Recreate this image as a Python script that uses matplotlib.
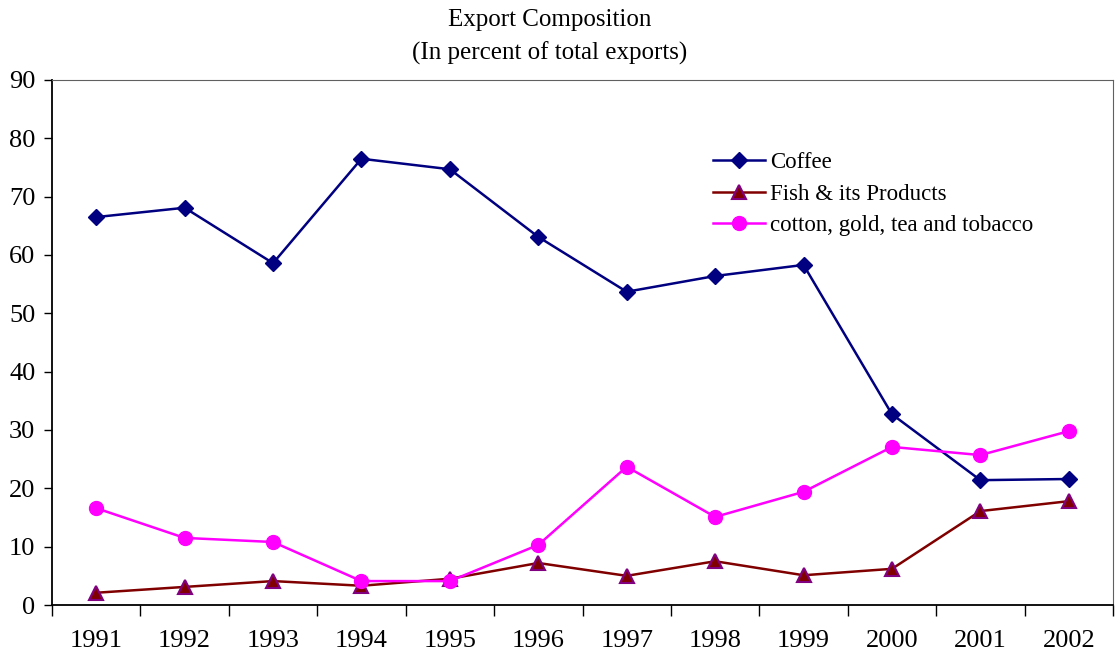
import matplotlib
matplotlib.use("Agg")
import matplotlib.pyplot as plt
import numpy as np

years = ["1991", "1992", "1993", "1994", "1995", "1996", "1997", "1998", "1999", "2000", "2001", "2002"]
coffee = [66.5, 68.1, 58.6, 76.5, 74.7, 63.1, 53.7, 56.4, 58.3, 32.7, 21.4, 21.6]
fish = [2.1, 3.1, 4.1, 3.3, 4.5, 7.2, 5.0, 7.5, 5.1, 6.2, 16.1, 17.8]
cotton = [16.6, 11.5, 10.8, 4.1, 4.1, 10.3, 23.7, 15.1, 19.4, 27.1, 25.7, 29.8]
yticks = [0, 10, 20, 30, 40, 50, 60, 70, 80, 90]

plt.rcParams['font.family'] = ['Liberation Serif', 'DejaVu Serif']

fig = plt.figure(figsize=(11.16, 6.54), dpi=100)
ax = fig.add_axes([52/1116, 49/654, (1113-52)/1116, (605-80)/654])

x = np.arange(len(years))
ax.plot(x, coffee, color='#000080', lw=1.8, marker='D', ms=8, mfc='#000080', mec='#000080', label='Coffee')
ax.plot(x, fish, color='#800000', lw=1.8, marker='^', ms=10, mfc='#800000', mec='#800080', mew=1.5, label='Fish & its Products')
ax.plot(x, cotton, color='#FF00FF', lw=1.8, marker='o', ms=10, mfc='#FF00FF', mec='#FF00FF', label='cotton, gold, tea and tobacco')

ax.set_xlim(-0.5, len(years) - 0.5)
ax.set_ylim(0, 90)
ax.set_yticks(yticks)
ax.set_yticklabels([str(v) for v in yticks], fontsize=19)
ax.set_xticks(np.arange(len(years) + 1) - 0.5)
ax.set_xticklabels([])
ax.set_xticks(x, minor=True)
ax.set_xticklabels(years, minor=True, fontsize=19)
ax.tick_params(axis='x', which='major', direction='out', length=8, width=1)
ax.tick_params(axis='x', which='minor', length=0, pad=18)
ax.tick_params(axis='y', direction='out', length=6, width=1, pad=6)

for s in ['left', 'bottom']:
    ax.spines[s].set_linewidth(1.3)
for s in ['top', 'right']:
    ax.spines[s].set_linewidth(0.8)
    ax.spines[s].set_color('#606060')

ax.set_title('Export Composition\n(In percent of total exports)', fontsize=18, pad=15,
             linespacing=1.55, x=0.469)

ax.legend(loc='upper left', bbox_to_anchor=(0.614, 0.88), frameon=False, fontsize=16.5,
          handlelength=2.3, handletextpad=0.2, labelspacing=0.45, borderaxespad=0)

fig.savefig('out.png', dpi=100)
